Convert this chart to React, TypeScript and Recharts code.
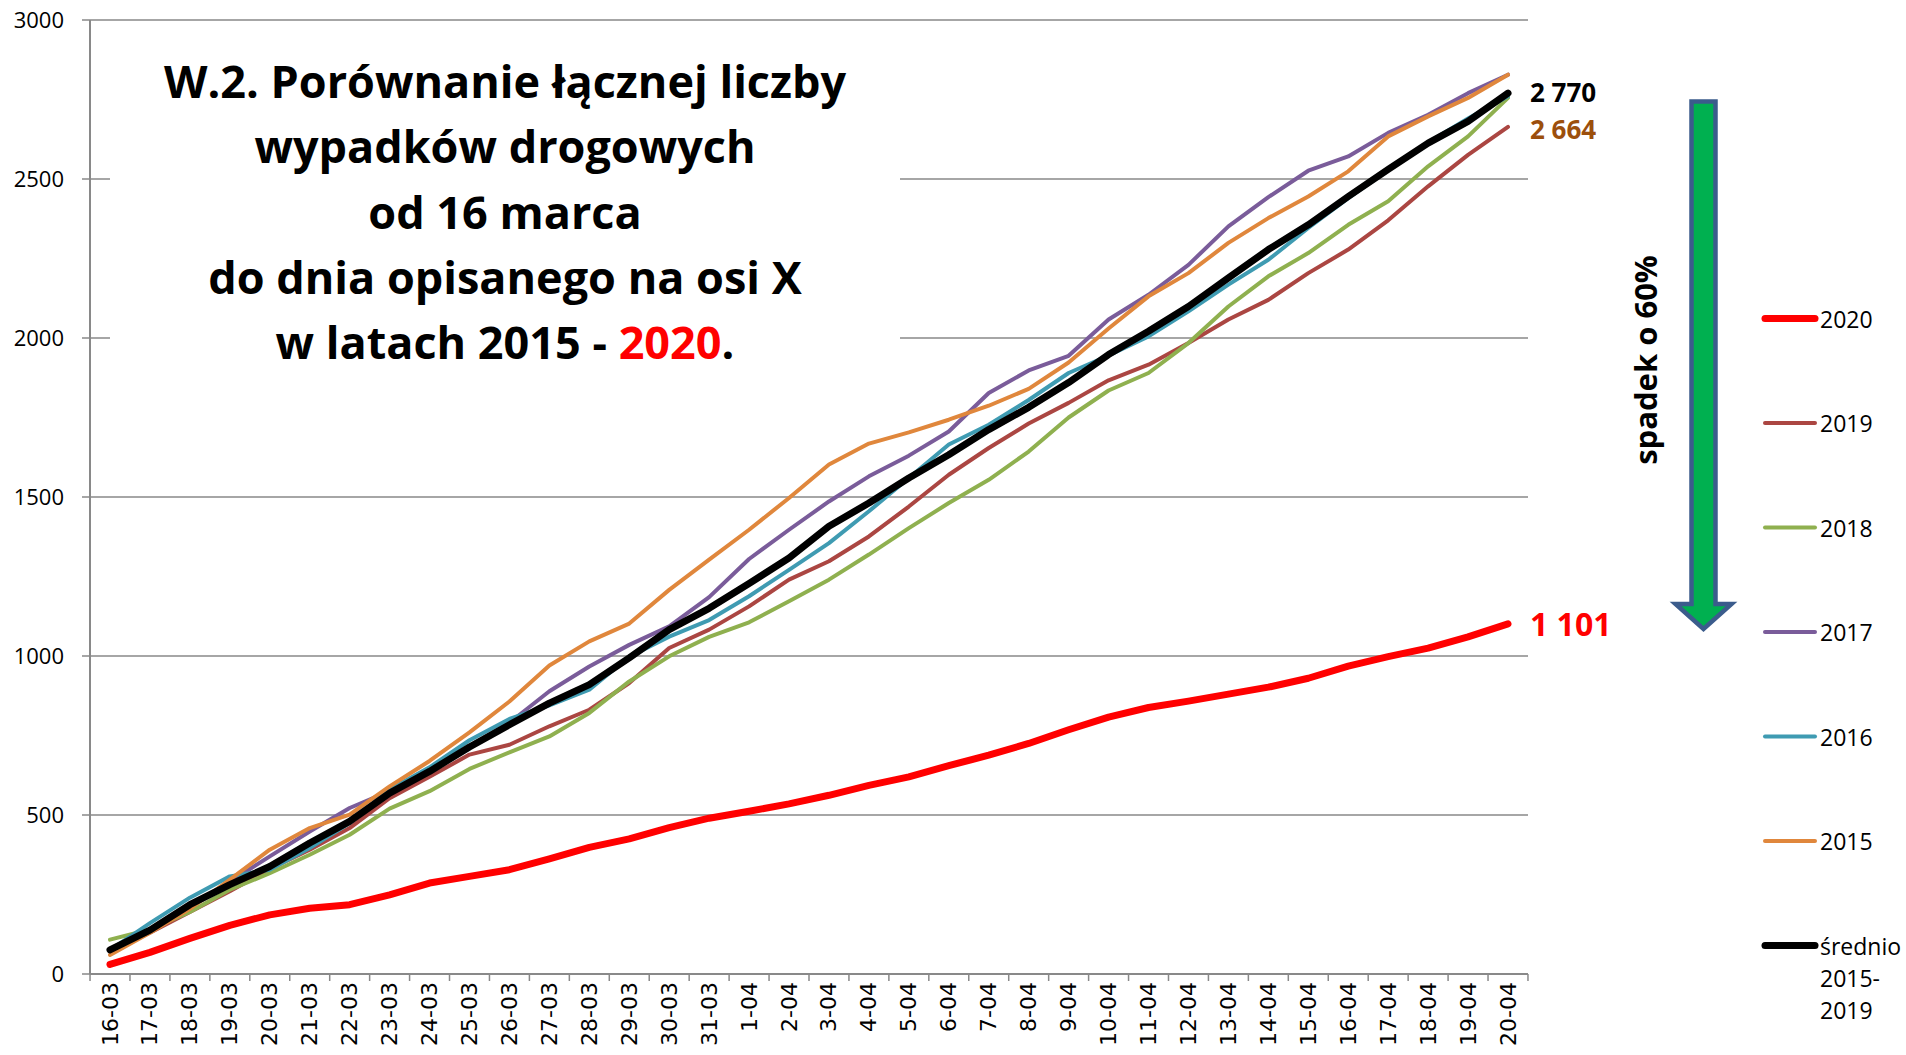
import React from 'react';
import { LineChart, Line, XAxis, YAxis, CartesianGrid, LabelList } from 'recharts';

const categories = [
  '16-03', '17-03', '18-03', '19-03', '20-03', '21-03', '22-03', '23-03', '24-03', '25-03',
  '26-03', '27-03', '28-03', '29-03', '30-03', '31-03', '1-04', '2-04', '3-04', '4-04',
  '5-04', '6-04', '7-04', '8-04', '9-04', '10-04', '11-04', '12-04', '13-04', '14-04',
  '15-04', '16-04', '17-04', '18-04', '19-04', '20-04',
];

const y2020 = [30, 68, 112, 153, 186, 207, 218, 249, 286, 307, 328, 362, 398, 425, 460, 490, 512, 535, 562, 593, 620, 655, 688, 725, 768, 808, 838, 858, 880, 902, 930, 968, 998, 1025, 1060, 1101];
const y2019 = [70, 130, 195, 260, 330, 391, 459, 553, 620, 690, 721, 779, 831, 915, 1025, 1083, 1156, 1240, 1298, 1376, 1470, 1570, 1654, 1731, 1796, 1867, 1916, 1984, 2058, 2120, 2204, 2278, 2370, 2477, 2576, 2664];
const y2018 = [108, 140, 195, 265, 317, 375, 438, 520, 575, 645, 697, 747, 821, 920, 999, 1060, 1106, 1172, 1240, 1319, 1402, 1481, 1554, 1643, 1750, 1835, 1890, 1984, 2099, 2194, 2267, 2356, 2430, 2540, 2634, 2755];
const y2017 = [75, 140, 215, 290, 370, 448, 522, 575, 645, 715, 790, 889, 967, 1035, 1093, 1185, 1305, 1397, 1486, 1565, 1630, 1706, 1827, 1898, 1944, 2058, 2136, 2230, 2351, 2443, 2526, 2571, 2645, 2702, 2770, 2828];
const y2016 = [75, 160, 240, 307, 328, 396, 475, 580, 650, 735, 802, 845, 894, 998, 1061, 1113, 1188, 1271, 1355, 1455, 1560, 1665, 1727, 1805, 1890, 1945, 2005, 2084, 2168, 2246, 2346, 2440, 2529, 2615, 2690, 2760];
const y2015 = [60, 130, 205, 297, 391, 459, 501, 590, 670, 760, 857, 970, 1046, 1102, 1208, 1303, 1397, 1497, 1602, 1668, 1703, 1743, 1787, 1840, 1923, 2030, 2131, 2204, 2299, 2377, 2445, 2524, 2634, 2697, 2755, 2828];
const yAvg = [76, 138, 218, 281, 338, 412, 480, 569, 637, 714, 784, 852, 910, 994, 1083, 1150, 1228, 1308, 1408, 1481, 1560, 1633, 1712, 1782, 1860, 1948, 2021, 2099, 2189, 2278, 2356, 2445, 2530, 2613, 2681, 2770];

const yTicks = [0, 500, 1000, 1500, 2000, 2500, 3000];

const seriesNames = ['2020', '2019', '2018', '2017', '2016', '2015', 'średnio 2015-2019'];
const seriesKeys = ['s2020', 's2019', 's2018', 's2017', 's2016', 's2015', 'avg'];
const seriesColors = ['#ff0000', '#ab4642', '#8fb04f', '#7a5c9a', '#3f9bb2', '#e0873c', '#000000'];
const seriesWidths = [7, 4, 4, 4, 4, 4, 7];
const seriesValues = [y2020, y2019, y2018, y2017, y2016, y2015, yAvg];

const data = categories.map((c, i) => {
  const row: any = { cat: c };
  seriesKeys.forEach((k, s) => { row[k] = seriesValues[s][i]; });
  return row;
});

const GRAY = '#898989';
const W = 1906;
const H = 1055;
const MARGIN = { top: 20, right: 378, bottom: 11, left: 0 };
const Y_W = 90;
const X_H = 70;
const PAD = 20;
const plotW = W - MARGIN.right - MARGIN.left - Y_W;
const HALF = (plotW - 2 * PAD) / (categories.length - 1) / 2;

const fmt = (v: number) => String(v).replace(/\B(?=(\d{3})+(?!\d))/g, ' ');

const endLabel = (color: string, size: number, dy: number) => (props: any) => {
  const { x, y, value, index } = props;
  if (index !== categories.length - 1) return null;
  return (
    <text x={x + 22} y={y + dy} fill={color} fontSize={size} fontWeight="bold" fontFamily="Open Sans" dominantBaseline="central">
      {fmt(value)}
    </text>
  );
};

const XTick = (props: any) => {
  const { x, y, payload } = props;
  const idx = categories.indexOf(payload.value);
  const axisY = y - 8;
  return (
    <g>
      <line x1={x - HALF} y1={axisY} x2={x - HALF} y2={axisY + 7} stroke={GRAY} strokeWidth={1.5} />
      {idx === categories.length - 1 && (
        <line x1={x + HALF} y1={axisY} x2={x + HALF} y2={axisY + 7} stroke={GRAY} strokeWidth={1.5} />
      )}
      <text x={x} y={y} transform={`rotate(-90 ${x} ${y})`} textAnchor="end" dominantBaseline="central" fontFamily="DejaVu Sans" fontSize={22} fill="#000">
        {payload.value}
      </text>
    </g>
  );
};

const legendY0 = 318.5;
const legendStep = 104.5;

export default function App() {
  return (
    <div style={{ position: 'absolute', left: 0, top: 0, width: W, height: H, background: '#fff' }}>
      <LineChart width={W} height={H} data={data} margin={MARGIN}>
        <CartesianGrid horizontal vertical={false} stroke={GRAY} strokeWidth={1.5} />
        <XAxis
          dataKey="cat"
          type="category"
          scale="point"
          interval={0}
          height={X_H}
          padding={{ left: PAD, right: PAD }}
          tickSize={7}
          tickMargin={1}
          tickLine={false}
          axisLine={{ stroke: GRAY, strokeWidth: 2 }}
          tick={<XTick />}
        />
        <YAxis
          domain={[0, 3000]}
          ticks={yTicks}
          interval={0}
          width={Y_W}
          tickSize={8}
          tickMargin={18}
          axisLine={{ stroke: GRAY, strokeWidth: 2 }}
          tickLine={{ stroke: GRAY, strokeWidth: 1.5 }}
          tick={{ fontSize: 22, fill: '#000', fontFamily: 'Open Sans' }}
        />
        {seriesKeys.map((k, s) => (
          <Line
            key={k}
            dataKey={k}
            name={seriesNames[s]}
            type="linear"
            stroke={seriesColors[s]}
            strokeWidth={seriesWidths[s]}
            strokeLinejoin="round"
            strokeLinecap="round"
            dot={false}
            activeDot={false}
            isAnimationActive={false}
          >
            {k === 's2020' && <LabelList dataKey={k} content={endLabel('#ff0000', 32, 0)} />}
            {k === 's2019' && <LabelList dataKey={k} content={endLabel('#9c4f0c', 26, 2)} />}
            {k === 'avg' && <LabelList dataKey={k} content={endLabel('#000000', 26, -1)} />}
          </Line>
        ))}
      </LineChart>

      <div
        style={{
          position: 'absolute', left: 110, top: 40, width: 790, height: 350, background: '#fff',
          boxSizing: 'border-box', paddingTop: 8, textAlign: 'center', fontFamily: 'Open Sans',
          fontWeight: 700, fontSize: 45, lineHeight: '65.3px', color: '#000',
        }}
      >
        <div>W.2. Porównanie łącznej liczby</div>
        <div>wypadków drogowych</div>
        <div>od 16 marca</div>
        <div>do dnia opisanego na osi X</div>
        <div>w latach 2015 - <span style={{ color: '#ff0000' }}>2020</span>.</div>
      </div>

      <svg width={W} height={H} style={{ position: 'absolute', left: 0, top: 0, pointerEvents: 'none' }}>
        <polygon
          points="1691.5,101.5 1715.5,101.5 1715.5,604 1731.5,604 1703.5,629 1675.5,604 1691.5,604"
          fill="#00b050"
          stroke="#3b5c8c"
          strokeWidth={4.5}
          strokeLinejoin="miter"
        />
        <text
          x={1645}
          y={360}
          transform="rotate(-90 1645 360)"
          textAnchor="middle"
          dominantBaseline="central"
          fontFamily="Open Sans"
          fontWeight="bold"
          fontSize={31}
          fill="#000"
        >
          spadek o 60%
        </text>
        {seriesNames.map((n, s) => {
          const ly = legendY0 + s * legendStep;
          const parts = s === seriesNames.length - 1 ? ['średnio', '2015-', '2019'] : [n];
          return (
            <g key={n}>
              <line x1={1765} y1={ly} x2={1815} y2={ly} stroke={seriesColors[s]} strokeWidth={seriesWidths[s]} strokeLinecap="round" />
              {parts.map((p, j) => (
                <text key={p} x={1820} y={ly + j * 32} dominantBaseline="central" fontFamily="Open Sans" fontSize={23} fill="#000">
                  {p}
                </text>
              ))}
            </g>
          );
        })}
      </svg>
    </div>
  );
}
